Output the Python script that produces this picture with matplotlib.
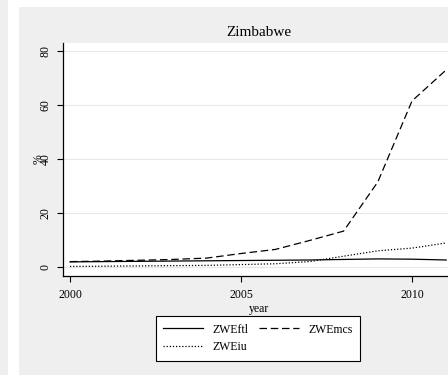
import matplotlib
matplotlib.use("Agg")
import matplotlib.pyplot as plt
from matplotlib.patches import Rectangle

years = [2000, 2001, 2002, 2003, 2004, 2005, 2006, 2007, 2008, 2009, 2010, 2011]
zwe_ftl = [1.9, 2.0, 2.1, 2.2, 2.3, 2.4, 2.5, 2.6, 2.8, 3.0, 2.9, 2.6]
zwe_mcs = [2.0, 2.2, 2.5, 2.8, 3.3, 5.0, 6.5, 9.8, 13.3, 31.5, 61.5, 73.0]
zwe_iu = [0.2, 0.3, 0.4, 0.5, 0.6, 0.9, 1.2, 2.0, 4.0, 6.0, 7.0, 8.9]
y_ticks = [0, 20, 40, 60, 80]
x_ticks = [2000, 2005, 2010]

plt.rcParams["font.family"] = ["Liberation Serif", "DejaVu Serif"]

W, H = 448, 375
bg = "#efefef"
fig = plt.figure(figsize=(W / 100, H / 100), dpi=100, facecolor=bg)

# white strips from the combined graph layout
fig.patches.append(Rectangle((8 / W, 0), 11 / W, 1, transform=fig.transFigure,
                             facecolor="white", edgecolor="none", zorder=0))
fig.patches.append(Rectangle((19 / W, 1 - 7 / H), 1, 7 / H, transform=fig.transFigure,
                             facecolor="white", edgecolor="none", zorder=0))

ax = fig.add_axes([63 / W, 1 - 276 / H, 392 / W, 233 / H])
ax.set_facecolor("white")

ax.plot(years, zwe_ftl, color="black", lw=0.9, ls="-", label="ZWEftl")
ax.plot(years, zwe_iu, color="black", lw=0.9, ls=(0, (1, 1.5)), label="ZWEiu")
ax.plot(years, zwe_mcs, color="black", lw=0.9, ls=(0, (6, 3)), label="ZWEmcs")

ax.set_xlim(2000 - 7 / 34.2, 2000 + 385 / 34.2)
ax.set_ylim(-3.33, 82.96)
ax.set_xticks(x_ticks)
ax.set_yticks(y_ticks)
ax.grid(axis="y", color="#e8e8e8", lw=0.8)
ax.set_axisbelow(True)

for s in ["top", "right"]:
    ax.spines[s].set_visible(False)
for s in ["left", "bottom"]:
    ax.spines[s].set_linewidth(0.9)

ax.tick_params(axis="both", direction="out", length=4, width=0.8, labelsize=8.5)
ax.tick_params(axis="x", pad=5)
ax.tick_params(axis="y", pad=4)
for lab in ax.get_yticklabels():
    lab.set_rotation(90)
    lab.set_va("center")

ax.set_ylabel("%", fontsize=8.5, rotation=90)
ax.yaxis.set_label_coords(-0.047, 0.502)
ax.set_xlabel("year", fontsize=8.5, labelpad=2)

fig.text(259 / W, 1 - 32 / H, "Zimbabwe", ha="center", va="center", fontsize=11)

leg = fig.legend(loc="center", bbox_to_anchor=(258 / W, 1 - 338.5 / H), ncol=2,
                 fontsize=8.5, handlelength=3.4, frameon=True, fancybox=False,
                 edgecolor="black", facecolor="white", framealpha=1,
                 columnspacing=0.9, borderpad=0.6, labelspacing=0.5)
leg.get_frame().set_linewidth(0.8)

fig.savefig("out.png", dpi=100, facecolor=bg)
